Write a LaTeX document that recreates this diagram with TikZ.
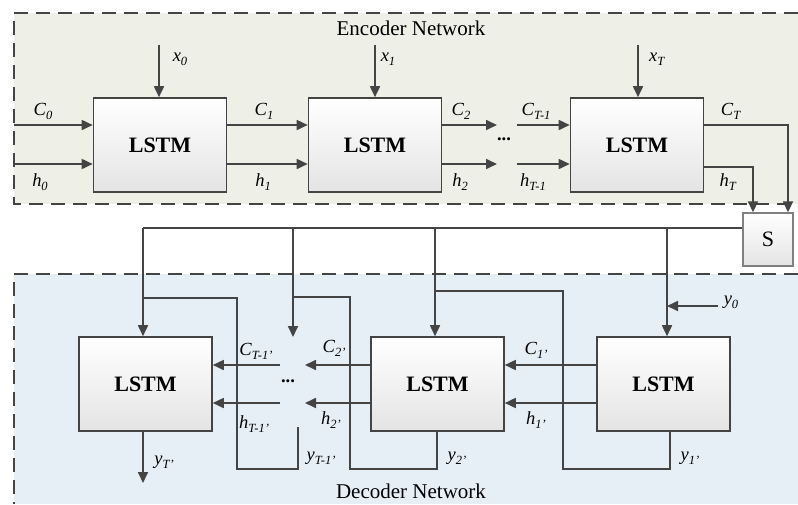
\documentclass[tikz,border=0pt]{standalone}
\usepackage{fontspec}
\setmainfont{Liberation Serif}
\usetikzlibrary{arrows.meta}
\definecolor{lc}{HTML}{444444}
\definecolor{encfill}{HTML}{EEF0E7}
\definecolor{decfill}{HTML}{E6EEF6}
\definecolor{boxbot}{HTML}{E4E4E4}
\newcommand\lab[2]{\textit{#1}\raisebox{-4pt}{\fontsize{12.5}{12.5}\selectfont\textit{#2}}}
\begin{document}
\begin{tikzpicture}[x=1pt,y=-1pt,
  wire/.style={draw=lc,line width=1.7pt},
  arr/.style={wire,-{Triangle[length=11pt,width=10pt]}},
  border/.style={draw=lc,line width=1.8pt,dash pattern=on 14pt off 8pt},
  lstm/.style={draw=lc,line width=1.6pt,top color=white,bottom color=boxbot,
    minimum width=133pt,minimum height=94pt,inner sep=0pt,
    font=\fontsize{22}{24}\selectfont\bfseries},
  sbox/.style={draw=gray,line width=1.4pt,top color=white,bottom color=boxbot,
    minimum width=50pt,minimum height=53pt,inner sep=0pt,
    font=\fontsize{22}{24}\selectfont},
  lbl/.style={inner sep=0pt,font=\fontsize{18.5}{20}\selectfont},
  title/.style={inner sep=0pt,font=\fontsize{21}{24}\selectfont}]
\useasboundingbox (0,0) rectangle (798,504);
\fill[white] (0,0) rectangle (798,504);
% regions
\fill[encfill] (14,13) rectangle (798,204);
\draw[border] (798,13) -- (14,13) -- (14,204) -- (798,204);
\fill[decfill] (14,274) rectangle (798,504);
\draw[border] (798,274) -- (14,274) -- (14,504);
\node[title] (enct) at (411,28) {Encoder Network};
\node[title] (dect) at (411,491) {Decoder Network};
% encoder boxes
\node[lstm] (E1) at (160,145) {LSTM};
\node[lstm] (E2) at (375,145) {LSTM};
\node[lstm] (E3) at (637,145) {LSTM};
\node[sbox] (S) at (768,239.5) {S};
% encoder inputs
\coordinate (x0s) at (159,45);
\coordinate (x1s) at (375,45);
\coordinate (xTs) at (638,45);
\draw[arr] (x0s) -- (x0s |- E1.north);
\draw[arr] (x1s) -- (x1s |- E2.north);
\draw[arr] (xTs) -- (xTs |- E3.north);
\coordinate (cin) at (14,125);
\coordinate (hin) at (14,164);
\draw[arr] (cin) -- (cin -| E1.west);
\draw[arr] (hin) -- (hin -| E1.west);
\draw[arr] (cin -| E1.east) -- (cin -| E2.west);
\draw[arr] (hin -| E1.east) -- (hin -| E2.west);
\coordinate (c2e) at (497,125);
\coordinate (h2e) at (497,164);
\coordinate (cTs) at (517,125);
\coordinate (hTs) at (517,164);
\draw[arr] (c2e -| E2.east) -- (c2e);
\draw[arr] (h2e -| E2.east) -- (h2e);
\draw[arr] (cTs) -- (cTs -| E3.west);
\draw[arr] (hTs) -- (hTs -| E3.west);
\coordinate (cTc) at (788,125);
\coordinate (hTc) at (753,167);
\draw[arr] (cTc -| E3.east) -- (cTc) -- (cTc |- S.north);
\draw[arr] (hTc -| E3.east) -- (hTc) -- (hTc |- S.north);
% encoder labels
\node[lbl] (lx0) at (180,59) {\lab{x}{0}};
\node[lbl] (lx1) at (388,59) {\lab{x}{1}};
\node[lbl] (lxT) at (657,59) {\lab{x}{T}};
\node[lbl] (lc0) at (43,111) {\lab{C}{0}};
\node[lbl] (lh0) at (40,182) {\lab{h}{0}};
\node[lbl] (lc1) at (264,111) {\lab{C}{1}};
\node[lbl] (lh1) at (263,182) {\lab{h}{1}};
\node[lbl] (lc2) at (461,111) {\lab{C}{2}};
\node[lbl] (lh2) at (460,182) {\lab{h}{2}};
\node[lbl] (lcT1) at (536,111) {\lab{C}{T-1}};
\node[lbl] (lhT1) at (533,182) {\lab{h}{T-1}};
\node[lbl] (lcT) at (731,111) {\lab{C}{T}};
\node[lbl] (lhT) at (728,182) {\lab{h}{T}};
\node[lbl] (edots) at (504,139) {\textbf{...}};
% decoder boxes
\node[lstm] (D4) at (145.5,384) {LSTM};
\node[lstm] (D2) at (437.5,384) {LSTM};
\node[lstm] (D1) at (663.5,384) {LSTM};
% bus from S
\coordinate (b1) at (143,228);
\coordinate (b2) at (293,228);
\coordinate (b3) at (435,228);
\coordinate (b4) at (667,228);
\draw[wire] (b1 -| S.west) -- (b1);
\draw[arr] (b1) -- (b1 |- D4.north);
\coordinate (dotsin) at (293,337);
\draw[arr] (b2) -- (dotsin);
\draw[arr] (b3) -- (b3 |- D2.north);
\draw[arr] (b4) -- (b4 |- D1.north);
% y0
\coordinate (y0s) at (718,306);
\draw[arr] (y0s) -- (y0s -| b4);
% decoder horizontals
\coordinate (cd) at (0,365);
\coordinate (hd) at (0,403);
\draw[arr] (cd -| D1.west) -- (cd -| D2.east);
\draw[arr] (hd -| D1.west) -- (hd -| D2.east);
\coordinate (c2d) at (305,365);
\coordinate (h2d) at (305,403);
\draw[arr] (c2d -| D2.west) -- (c2d);
\draw[arr] (h2d -| D2.west) -- (h2d);
\coordinate (cTd) at (280,365);
\coordinate (hTd) at (280,403);
\draw[arr] (cTd) -- (cTd -| D4.east);
\draw[arr] (hTd) -- (hTd -| D4.east);
% feedback loops
\coordinate (f1) at (670,469);
\draw[wire] (f1 |- D1.south) -- (f1) -- (563,469) -- (563,291) -- (b3 |- 0,291);
\coordinate (f2) at (437,469);
\draw[wire] (f2 |- D2.south) -- (f2) -- (350,469) -- (350,297) -- (b2 |- 0,297);
\coordinate (f3) at (298,427);
\draw[wire] (f3) -- (298,469) -- (237,469) -- (237,298) -- (b1 |- 0,298);
\coordinate (yTo) at (143,483);
\draw[arr] (yTo |- D4.south) -- (yTo);
% decoder labels
\node[lbl] (ly0) at (731,302) {\lab{y}{0}};
\node[lbl] (lc1d) at (536,350) {\lab{C}{1'}};
\node[lbl] (lh1d) at (536,420) {\lab{h}{1'}};
\node[lbl] (lc2d) at (334,348) {\lab{C}{2'}};
\node[lbl] (lh2d) at (331,420) {\lab{h}{2'}};
\node[lbl] (lcT1d) at (256,351) {\lab{C}{T-1'}};
\node[lbl] (lhT1d) at (254,424) {\lab{h}{T-1'}};
\node[lbl] (ddots) at (288,381) {\textbf{...}};
\node[lbl] (lyT) at (164,462) {\lab{y}{T'}};
\node[lbl] (lyT1) at (321,458) {\lab{y}{T-1'}};
\node[lbl] (ly2) at (457,458) {\lab{y}{2'}};
\node[lbl] (ly1) at (690,458) {\lab{y}{1'}};
\end{tikzpicture}
\end{document}
